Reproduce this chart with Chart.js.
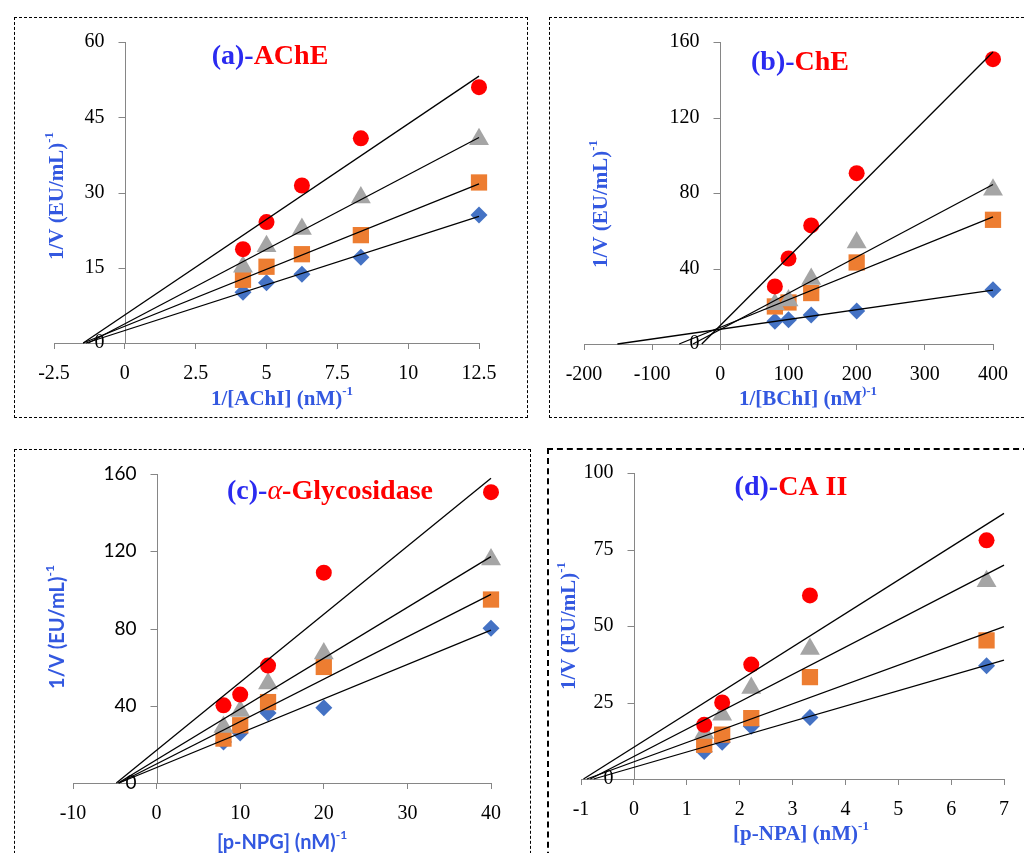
<!DOCTYPE html>
<html>
<head>
<meta charset="utf-8">
<script src="https://cdn.jsdelivr.net/npm/chart.js@4.4.1/dist/chart.umd.min.js"></script>
<style>
  html, body { margin: 0; padding: 0; background: #fff; overflow: hidden; }
  .box { position: absolute; box-sizing: border-box; border: 1px dashed #000; }
  .box.thick { border: 2px dashed #000; }
  canvas { position: absolute; }
</style>
</head>
<body>
<div class="box" style="left:14px;top:17px;width:514px;height:401px"></div>
<div class="box" style="left:549px;top:17px;width:480px;height:401px"></div>
<div class="box" style="left:14px;top:449px;width:517px;height:430px"></div>
<div class="box thick" style="left:547px;top:448px;width:482px;height:430px"></div>
<canvas id="chartA" width="513" height="400" style="left:14px;top:17px"></canvas>
<canvas id="chartB" width="477" height="400" style="left:549px;top:17px"></canvas>
<canvas id="chartC" width="516" height="420" style="left:14px;top:449px"></canvas>
<canvas id="chartD" width="479" height="420" style="left:547px;top:448px"></canvas>
<script>
// (a) AChE
const aX = [4.17, 5, 6.25, 8.33, 12.5];
const aBlue = [10.1, 12.0, 13.7, 17.1, 25.5];
const aOrange = [12.6, 15.2, 17.7, 21.5, 32.0];
const aGray = [15.2, 19.3, 22.7, 29.0, 40.6];
const aRed = [18.7, 24.1, 31.4, 40.8, 51.0];
const aXTicks = [-2.5, 0, 2.5, 5, 7.5, 10, 12.5];
const aYTicks = [0, 15, 30, 45, 60];

// (b) ChE
const bX = [80, 100, 133.3, 200, 400];
const bBlue = [12.0, 12.9, 15.3, 17.5, 28.7];
const bOrange = [19.9, 22.0, 27.0, 43.2, 65.8];
const bGray = [21.0, 23.0, 34.4, 53.8, 81.7];
const bRed = [30.5, 45.3, 62.8, 90.5, 150.9];
const bXTicks = [-200, -100, 0, 100, 200, 300, 400];
const bYTicks = [0, 40, 80, 120, 160];

// (c) alpha-glycosidase
const cX = [8, 10, 13.33, 20, 40];
const cBlue = [21.2, 25.9, 36.3, 39.0, 80.1];
const cOrange = [23.0, 29.9, 41.9, 60.1, 95.0];
const cGray = [29.0, 37.3, 51.5, 67.0, 115.7];
const cRed = [40.2, 45.8, 60.8, 108.9, 150.6];
const cXTicks = [-10, 0, 10, 20, 30, 40];
const cYTicks = [0, 40, 80, 120, 160];

// (d) CA II
const dX = [1.33, 1.67, 2.22, 3.33, 6.67];
const dBlue = [9.0, 12.0, 17.2, 20.1, 37.0];
const dOrange = [11.2, 14.5, 19.9, 33.3, 45.3];
const dGray = [15.0, 21.0, 29.7, 42.5, 64.6];
const dRed = [17.7, 25.0, 37.4, 60.0, 78.0];
const dXTicks = [-1, 0, 1, 2, 3, 4, 5, 6, 7];
const dYTicks = [0, 25, 50, 75, 100];

// fin de la linea de tendencia (eje x)
const trendEnd = { a: 12.5, b: 400, c: 40, d: 7 };

const SERIF = '"Liberation Serif", "Times New Roman", serif';
const SANS = 'Lato, "Open Sans", sans-serif';
const AXIS = '#868686';
const TITLE_BLUE = '#2b2bf0';
const LABEL_BLUE = '#3358e0';
const RED = '#ff0000';

// recta de minimos cuadrados, desde el corte con y=0 hasta xEnd
function trend(xs, ys, xEnd) {
    const n = xs.length;
    const mx = xs.reduce((s, v) => s + v, 0) / n;
    const my = ys.reduce((s, v) => s + v, 0) / n;
    let sxy = 0, sxx = 0;
    xs.forEach((x, i) => { sxy += (x - mx) * (ys[i] - my); sxx += (x - mx) * (x - mx); });
    const m = sxy / sxx;
    const b = my - m * mx;
    return [{ x: -b / m, y: 0 }, { x: xEnd, y: m * xEnd + b }];
}

function drawRich(ctx, parts, cx, cy) {
    let w = 0;
    parts.forEach(p => { ctx.font = p[1]; w += ctx.measureText(p[0]).width; });
    let px = cx - w / 2;
    ctx.textAlign = 'left';
    ctx.textBaseline = 'middle';
    parts.forEach(p => {
        ctx.font = p[1];
        ctx.fillStyle = p[2];
        ctx.fillText(p[0], px, cy + (p[3] || 0));
        px += ctx.measureText(p[0]).width;
    });
}

function makeChart(id, xs, series, xTicks, yTicks, xEnd, look) {
    const [blue, orange, gray, red] = series;
    const pts = ys => xs.map((x, i) => ({ x: x, y: ys[i] }));
    const marker = (ys, style, color, r, order) => ({
        data: pts(ys), pointStyle: style, pointRadius: r, pointHoverRadius: r,
        backgroundColor: color, borderColor: color, borderWidth: 0, order: order, clip: false
    });
    const lines = series.map(ys => ({
        data: trend(xs, ys, xEnd), showLine: true, pointRadius: 0,
        borderColor: '#000', borderWidth: 1.3, order: 0, clip: false
    }));

    const axisPlugin = {
        id: 'axisAndTitles',
        beforeDatasetsDraw(chart) {
            const { ctx, scales: { x, y } } = chart;
            const x0 = Math.round(x.getPixelForValue(0)) + 0.5;
            ctx.save();
            ctx.strokeStyle = AXIS;
            ctx.lineWidth = 1;
            ctx.beginPath();
            ctx.moveTo(x0, y.getPixelForValue(yTicks[yTicks.length - 1]));
            ctx.lineTo(x0, y.getPixelForValue(0));
            yTicks.forEach(v => {
                const py = Math.round(y.getPixelForValue(v)) + 0.5;
                ctx.moveTo(x0 - 7, py);
                ctx.lineTo(x0, py);
            });
            ctx.stroke();
            ctx.fillStyle = '#000';
            ctx.font = look.yTickFont;
            ctx.textAlign = 'right';
            ctx.textBaseline = 'middle';
            yTicks.forEach(v => ctx.fillText(String(v), x0 - 21, y.getPixelForValue(v)));
            ctx.restore();
        },
        afterDraw(chart) {
            const ctx = chart.ctx;
            ctx.save();
            drawRich(ctx, look.title, look.titlePos[0], look.titlePos[1]);
            drawRich(ctx, look.xTitle, look.xTitlePos[0], look.xTitlePos[1]);
            ctx.translate(look.yTitlePos[0], look.yTitlePos[1]);
            ctx.rotate(-Math.PI / 2);
            drawRich(ctx, look.yTitle, 0, 0);
            ctx.restore();
        }
    };

    return new Chart(document.getElementById(id), {
        type: 'scatter',
        data: {
            datasets: [
                ...lines,
                marker(red, 'circle', RED, 8, 1),
                marker(gray, 'triangle', '#a5a5a5', 11.5, 2),
                marker(orange, 'rect', '#ed7d31', 11.5, 3),
                marker(blue, 'rectRot', '#4472c4', 8.5, 4)
            ]
        },
        options: {
            responsive: false,
            animation: false,
            events: [],
            layout: { padding: look.pad },
            plugins: { legend: { display: false }, tooltip: { enabled: false } },
            scales: {
                x: {
                    type: 'linear',
                    min: xTicks[0],
                    max: xTicks[xTicks.length - 1],
                    afterBuildTicks: s => { s.ticks = xTicks.map(v => ({ value: v })); },
                    afterFit: s => { s.height = 40; },
                    ticks: {
                        callback: v => String(v),
                        font: { family: SERIF, size: 20 },
                        color: '#000',
                        padding: 13,
                        maxRotation: 0
                    },
                    grid: { display: true, drawOnChartArea: false, drawTicks: true, tickLength: 6, color: AXIS },
                    border: { display: true, color: AXIS, width: 1 }
                },
                y: {
                    type: 'linear',
                    display: false,
                    min: yTicks[0],
                    max: yTicks[yTicks.length - 1]
                }
            }
        },
        plugins: [axisPlugin]
    });
}

const tFont = '700 28px ' + SERIF;
const lFont = '700 21px ' + SERIF;
const supFont = '700 13px ' + SERIF;
const sFont = '700 20px ' + SANS;
const sSup = '700 12px ' + SANS;

makeChart('chartA', aX, [aBlue, aOrange, aGray, aRed], aXTicks, aYTicks, trendEnd.a, {
    pad: { left: 40, right: 48, top: 25, bottom: 34 },
    yTickFont: '20px ' + SERIF,
    title: [['(a)-', tFont, TITLE_BLUE], ['AChE', tFont, RED]],
    titlePos: [256, 40],
    xTitle: [['1/[AChI] (nM)', lFont, LABEL_BLUE], ['-1', supFont, LABEL_BLUE, -8]],
    xTitlePos: [268, 383],
    yTitle: [['1/V (EU/mL)', lFont, LABEL_BLUE], ['-1', supFont, LABEL_BLUE, -8]],
    yTitlePos: [44, 179]
});

makeChart('chartB', bX, [bBlue, bOrange, bGray, bRed], bXTicks, bYTicks, trendEnd.b, {
    pad: { left: 35, right: 33, top: 25, bottom: 33 },
    yTickFont: '20px ' + SERIF,
    title: [['(b)-', tFont, TITLE_BLUE], ['ChE', tFont, RED]],
    titlePos: [251, 46],
    xTitle: [['1/[BChI] (nM', lFont, LABEL_BLUE], [')-1', supFont, LABEL_BLUE, -8]],
    xTitlePos: [259, 383],
    yTitle: [['1/V (EU/mL)', lFont, LABEL_BLUE], ['-1', supFont, LABEL_BLUE, -8]],
    yTitlePos: [53, 187]
});

makeChart('chartC', cX, [cBlue, cOrange, cGray, cRed], cXTicks, cYTicks, trendEnd.c, {
    pad: { left: 59, right: 39, top: 25, bottom: 46 },
    yTickFont: '19px ' + SANS,
    title: [['(c)-', tFont, TITLE_BLUE], ['\u03b1', 'italic 28px ' + SERIF, RED], ['-Glycosidase', tFont, RED]],
    titlePos: [316, 43],
    xTitle: [['[p-NPG] (nM)', sFont, LABEL_BLUE], ['-1', sSup, LABEL_BLUE, -8]],
    xTitlePos: [268, 394],
    yTitle: [['1/V (EU/mL)', sFont, LABEL_BLUE], ['-1', sSup, LABEL_BLUE, -8]],
    yTitlePos: [44, 178]
});

makeChart('chartD', dX, [dBlue, dOrange, dGray, dRed], dXTicks, dYTicks, trendEnd.d, {
    pad: { left: 34, right: 22, top: 25, bottom: 49 },
    yTickFont: '20px ' + SERIF,
    title: [['(d)-', tFont, TITLE_BLUE], ['CA II', tFont, RED]],
    titlePos: [244, 40],
    xTitle: [['[p-NPA] (nM)', lFont, LABEL_BLUE], ['-1', supFont, LABEL_BLUE, -8]],
    xTitlePos: [254, 387],
    yTitle: [['1/V (EU/mL)', lFont, LABEL_BLUE], ['-1', supFont, LABEL_BLUE, -8]],
    yTitlePos: [23, 178]
});
</script>
</body>
</html>
